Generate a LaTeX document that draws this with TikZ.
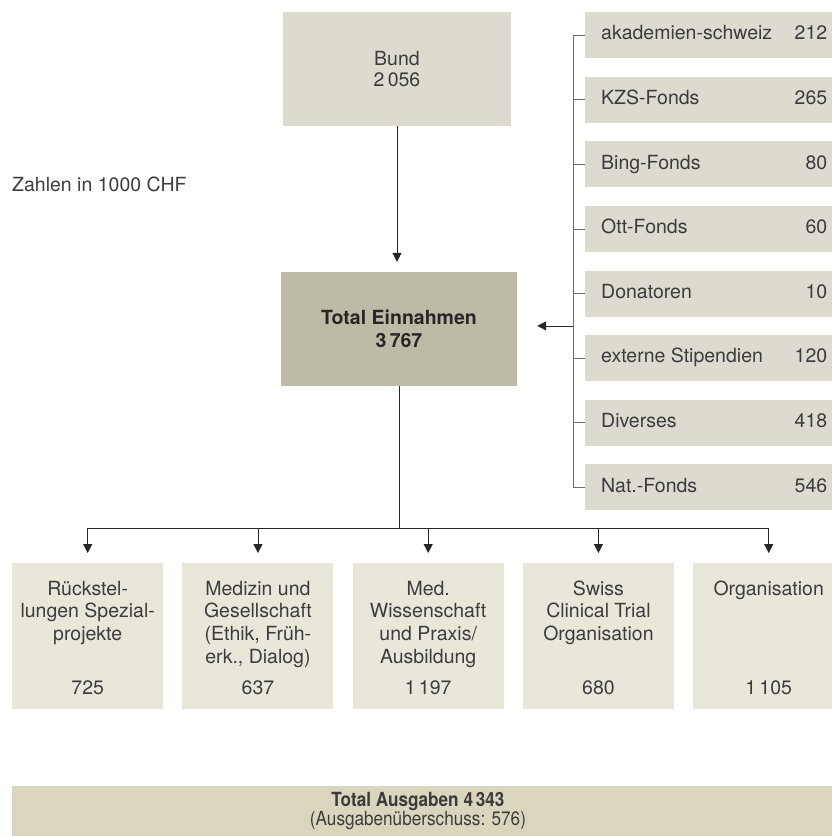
\documentclass[tikz,border=0pt]{standalone}
\usepackage{fontspec}
\setmainfont{TeX Gyre Heros}
\usetikzlibrary{arrows.meta,calc}
\definecolor{boxgray}{HTML}{DDDBCF}
\definecolor{boxcream}{HTML}{E9E7DA}
\definecolor{totalfill}{HTML}{BDBBA6}
\definecolor{barfill}{HTML}{DAD6BD}
\definecolor{txt}{HTML}{3C3C3C}
\definecolor{linegray}{HTML}{6E6E6E}

\begin{document}
\begin{tikzpicture}[x=1pt,y=-1pt,
  every node/.style={font=\fontsize{19.5}{22.7}\selectfont, text=txt, inner sep=0pt},
  srcbox/.style={fill=boxgray, minimum width=260pt, minimum height=46pt},
  srctext/.style={text height=14pt, text depth=4.5pt},
  outbox/.style={fill=boxcream, minimum width=151pt, minimum height=146pt},
  line/.style={draw=black!85, line width=0.8pt},
  arr/.style={line, -{Triangle[width=9pt,length=9pt]}},
  bracket/.style={draw=linegray, line width=1pt}]
\clip (0,0) rectangle (832,836);

% Einnahmen
\node[fill=boxgray, minimum width=228pt, minimum height=114pt, align=center,
  font=\fontsize{19.5}{21}\selectfont] (bund) at (397,69) {Bund\\2\,056};
\node[fill=totalfill, minimum width=236pt, minimum height=114pt, align=center, text=black!85] (total) at (399,329) {\bfseries Total Einnahmen\\\bfseries 3\,767};
\node[anchor=west] (note) at (12,184) {Zahlen in 1000 CHF};
\draw[arr] (bund.south) -- ([yshift=10pt]bund.south |- total.north);

% Drittmittel
\foreach \lab/\val [count=\i] in {akademien-schweiz/212, KZS-Fonds/265, Bing-Fonds/80, Ott-Fonds/60,
  Donatoren/10, externe Stipendien/120, Diverses/418, Nat.-Fonds/546}{
  \node[srcbox, anchor=north west] (s\i) at (585,{12+64.6*(\i-1)}) {};
  \node[srctext, anchor=west] (l\i) at ([xshift=16pt]s\i.west) {\lab};
  \node[srctext, anchor=east] (n\i) at ([xshift=-18pt]s\i.east) {\val};
}
\draw[bracket] (s1.west) -- ++(-12,0) -- ([xshift=-12pt]s8.west) -- (s8.west);
\foreach \i in {2,...,7}
  \draw[bracket] (s\i.west) -- ++(-12,0);
\coordinate (join) at ($(s5.west)!0.5!(s6.west)+(-12,0)$);
\draw[arr] (join) -- ([xshift=20pt]join -| total.east);

% Ausgaben
\foreach \lab/\val [count=\i] in {{Rückstel-\\lungen Spezial-\\projekte}/725,
  {Medizin und\\Gesellschaft\\(Ethik, Früh-\\erk., Dialog)}/637,
  {Med.\\Wissenschaft\\und Praxis/\\Ausbildung}/1\,197,
  {Swiss\\Clinical Trial\\Organisation}/680,
  {Organisation}/1\,105}{
  \node[outbox, anchor=north west] (e\i) at ({12+170.25*(\i-1)},563) {};
  \node[anchor=north, align=center] (t\i) at ([yshift=-14.5pt]e\i.north) {\vphantom{Ü}\lab};
  \node[anchor=base] (v\i) at ([yshift=-131pt]e\i.north) {\val};
}
\coordinate (hub) at ([yshift=-142pt]total.south);
\draw[line] (total.south) -- (hub);
\draw[line] (e1.north |- hub) -- (e5.north |- hub);
\foreach \i in {1,...,5}
  \draw[arr] (e\i.north |- hub) -- ([yshift=10pt]e\i.north);

\node[fill=barfill, anchor=north west, minimum width=840pt, minimum height=60pt] (bar) at (12,786) {};
\node (ausg) at (418,802) {\scalebox{0.88}[1]{\bfseries Total Ausgaben 4\,343}};
\node (diff) at (418,821) {\scalebox{0.88}[1]{(Ausgabenüberschuss: 576)}};
\end{tikzpicture}
\end{document}
